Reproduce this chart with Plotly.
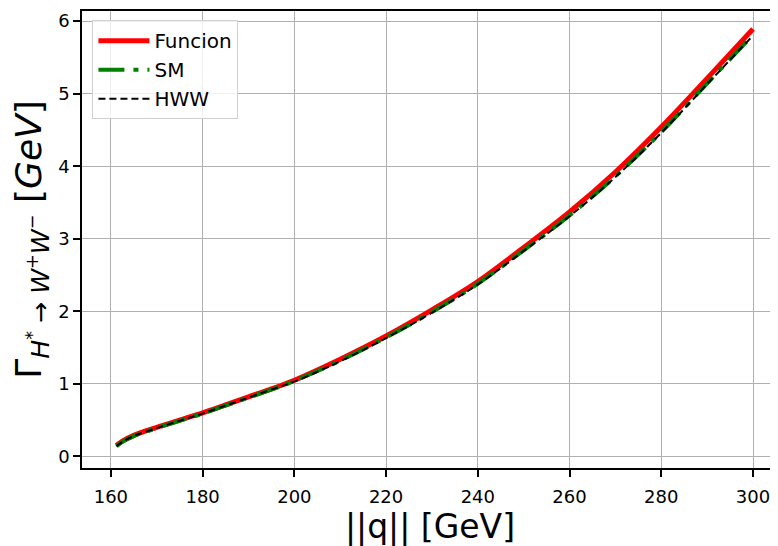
import plotly.graph_objects as go

q_vals = [161.2, 162.5, 165, 170, 175, 180, 185, 190, 195, 200, 210, 220, 230, 240, 250, 260, 270, 280, 290, 300]
funcion = [0.15, 0.21, 0.29, 0.40, 0.50, 0.60, 0.71, 0.82, 0.93, 1.05, 1.34, 1.66, 2.02, 2.41, 2.88, 3.37, 3.92, 4.54, 5.21, 5.89]
sm = [0.14, 0.20, 0.28, 0.39, 0.49, 0.59, 0.70, 0.81, 0.92, 1.04, 1.32, 1.64, 1.99, 2.38, 2.84, 3.32, 3.86, 4.47, 5.14, 5.81]
hww = [0.14, 0.20, 0.28, 0.39, 0.49, 0.59, 0.70, 0.81, 0.92, 1.03, 1.31, 1.63, 1.98, 2.37, 2.83, 3.31, 3.85, 4.46, 5.13, 5.80]

x_ticks = [160, 180, 200, 220, 240, 260, 280, 300]
y_ticks = [0, 1, 2, 3, 4, 5, 6]

FONT = "DejaVu Sans"

y_title = ("Γ<sub><i>H</i><sup>*</sup> → <i>W</i><sup>+</sup>"
           "<i>W</i><sup>−</sup></sub> [<i>GeV</i>]")

fig = go.Figure()
fig.add_trace(go.Scatter(x=q_vals, y=funcion, mode="lines", name="Funcion",
                         line=dict(color="red", width=5, shape="spline")))
fig.add_trace(go.Scatter(x=q_vals, y=sm, mode="lines", name="SM",
                         line=dict(color="green", width=4, dash="26px,9px,5px,9px", shape="spline")))
fig.add_trace(go.Scatter(x=q_vals, y=hww, mode="lines", name="HWW",
                         line=dict(color="black", width=2, dash="7px,4px", shape="spline")))

# page body has an 8px margin: figure is sized so it ends at the window edge
fig.update_layout(
    width=770, height=538,
    margin=dict(l=74, r=0, t=3, b=78, autoexpand=False),
    paper_bgcolor="white", plot_bgcolor="white",
    font=dict(family=FONT, size=18, color="black"),
    showlegend=True,
    legend=dict(x=0.015, y=0.98, xanchor="left", yanchor="top",
                bgcolor="rgba(255,255,255,0.8)", bordercolor="#d0d0d0", borderwidth=1,
                font=dict(family=FONT, size=20), itemwidth=51,
                tracegroupgap=0),
    xaxis=dict(range=[153.7, 305.45], tickvals=x_ticks, ticktext=[str(v) for v in x_ticks],
               showgrid=True, gridcolor="#b0b0b0", gridwidth=1,
               showline=True, linecolor="black", linewidth=1.5, mirror=True,
               ticks="outside", ticklen=7, tickwidth=1.5, tickcolor="black",
               ticklabelstandoff=5,
               tickfont=dict(family=FONT, size=18), zeroline=False,
               automargin=False,
               title=dict(text="||q|| [GeV]", font=dict(family=FONT, size=33), standoff=13)),
    yaxis=dict(range=[-0.160, 6.139], tickvals=y_ticks, ticktext=[str(v) for v in y_ticks],
               showgrid=True, gridcolor="#b0b0b0", gridwidth=1,
               showline=True, linecolor="black", linewidth=1.5, mirror=False,
               ticks="outside", ticklen=7, tickwidth=1.5, tickcolor="black",
               tickfont=dict(family=FONT, size=18), zeroline=False,
               automargin=False,
               title=dict(text=y_title, font=dict(family=FONT, size=36), standoff=9)),
)

fig.write_html("out.html")
